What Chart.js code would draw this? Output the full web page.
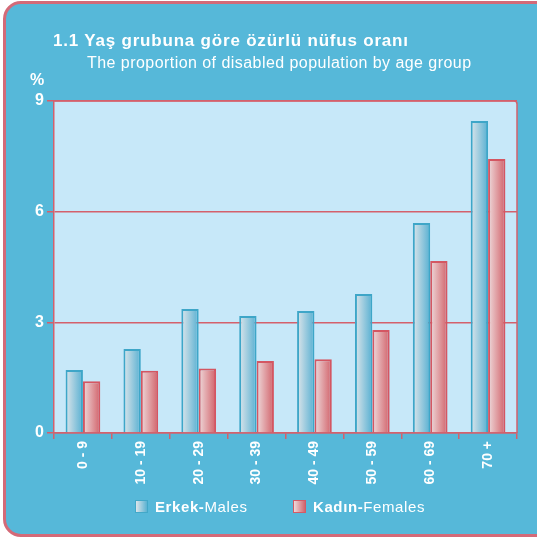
<!DOCTYPE html>
<html>
<head>
<meta charset="utf-8">
<script src="https://cdn.jsdelivr.net/npm/chart.js@4"></script>
<style>
  body { margin: 0; background: #fff; font-family: "Liberation Sans", Arial, sans-serif; }
  #card {
    position: absolute; left: 3px; top: 1px; width: 560px; height: 530px;
    background: #56b8d9; border: 3px solid #d46a78; border-radius: 18px;
  }
  #wrap { position: absolute; left: 0; top: 0; width: 537px; height: 538px; }
  .t { position: absolute; color: #fff; white-space: nowrap; }
  #title { left: 53px; top: 31px; font-size: 17px; font-weight: bold; letter-spacing: 0.8px; }
  #sub { left: 87px; top: 54px; font-size: 16px; letter-spacing: 0.45px; }
  #pct { left: 30px; top: 71px; font-size: 16px; font-weight: bold; }
  .leg { position: absolute; top: 498px; font-size: 15px; color: #fff; letter-spacing: 0.6px; }
  .sw { display: inline-block; width: 11px; height: 11px; vertical-align: -1px; margin-right: 7px; }
  #swM { background: linear-gradient(to right, #dde5ea, #5ab2d2); border: 1.5px solid #42a8c8; }
  #swF { background: linear-gradient(to right, #eedadb, #d2646c); border: 1.5px solid #d45a66; }
</style>
</head>
<body>
<div id="card"></div>
<div id="wrap"><canvas id="ageChart" width="537" height="538"></canvas></div>
<div class="t" id="title">1.1 Yaş grubuna göre özürlü nüfus oranı</div>
<div class="t" id="sub">The proportion of disabled population by age group</div>
<div class="t" id="pct">%</div>
<div class="leg" style="left:135px"><span class="sw" id="swM"></span><b>Erkek-</b>Males</div>
<div class="leg" style="left:293px"><span class="sw" id="swF"></span><b>Kadın-</b>Females</div>
<script>
// Data for the chart
const ageGroups = ['0 - 9', '10 - 19', '20 - 29', '30 - 39', '40 - 49', '50 - 59', '60 - 69', '70 +'];
const males = [1.71, 2.28, 3.36, 3.17, 3.31, 3.77, 5.69, 8.46];
const females = [1.40, 1.69, 1.75, 1.95, 2.00, 2.79, 4.66, 7.43];
const yTicks = [0, 3, 6, 9];

const red = '#d4606c';

// horizontal gradient for each bar
function barFill(side, light, dark) {
    return function (c) {
        const area = c.chart.chartArea;
        if (!area) return dark;
        const x = c.chart.scales.x;
        const cat = (area.right - area.left) / ageGroups.length;
        const w = cat * 0.6 / 2;
        const mid = x.getPixelForValue(c.dataIndex);
        const l = side === 0 ? mid - w : mid;
        const g = c.chart.ctx.createLinearGradient(l, 0, l + w, 0);
        g.addColorStop(0, light);
        g.addColorStop(1, dark);
        return g;
    };
}

const plotBg = {
    id: 'plotBg',
    beforeDraw(chart) {
        const a = chart.chartArea, ctx = chart.ctx;
        ctx.save();
        ctx.fillStyle = '#c7e8f9';
        ctx.fillRect(a.left, a.top, a.right - a.left, a.bottom - a.top);
        ctx.restore();
    },
    afterDraw(chart) {
        const a = chart.ctx, c = chart.chartArea;
        a.save();
        a.strokeStyle = red;
        a.lineWidth = 1.5;
        a.beginPath();
        a.moveTo(c.left, c.top);
        a.lineTo(c.right - 3, c.top);
        a.quadraticCurveTo(c.right, c.top, c.right, c.top + 3);
        a.lineTo(c.right, c.bottom);
        a.stroke();
        a.restore();
    }
};

const ctx = document.getElementById('ageChart').getContext('2d');
new Chart(ctx, {
    type: 'bar',
    data: {
        labels: ageGroups,
        datasets: [{
            label: 'Erkek-Males',
            data: males,
            backgroundColor: barFill(0, '#dde5ea', '#58b0d2'),
            borderColor: '#3ea6c8',
            borderWidth: 2,
            categoryPercentage: 0.6,
            barPercentage: 1.0
        }, {
            label: 'Kadın-Females',
            data: females,
            backgroundColor: barFill(1, '#eedadb', '#d2626a'),
            borderColor: '#d45662',
            borderWidth: 2,
            categoryPercentage: 0.6,
            barPercentage: 1.0
        }]
    },
    options: {
        responsive: false,
        animation: false,
        layout: { padding: { top: 101, right: 20, left: 0, bottom: 0 } },
        plugins: {
            legend: { display: false },
            tooltip: { enabled: false }
        },
        scales: {
            x: {
                afterFit(s) { s.height = 105; },
                grid: { drawOnChartArea: false, color: red, lineWidth: 1.5, tickLength: 6 },
                border: { color: red, width: 1.5 },
                ticks: {
                    color: '#fff',
                    font: { family: 'Liberation Sans', size: 14, weight: 'bold' },
                    minRotation: 90, maxRotation: 90, padding: 2
                }
            },
            y: {
                min: 0, max: 9,
                afterFit(s) { s.width = 54; },
                afterBuildTicks(s) { s.ticks = yTicks.map(v => ({ value: v })); },
                grid: { color: red, lineWidth: 1.5, tickLength: 7 },
                border: { color: red, width: 1.5 },
                ticks: {
                    color: '#fff',
                    font: { family: 'Liberation Sans', size: 16, weight: 'bold' },
                    padding: 3
                }
            }
        }
    },
    plugins: [plotBg]
});
</script>
</body>
</html>
